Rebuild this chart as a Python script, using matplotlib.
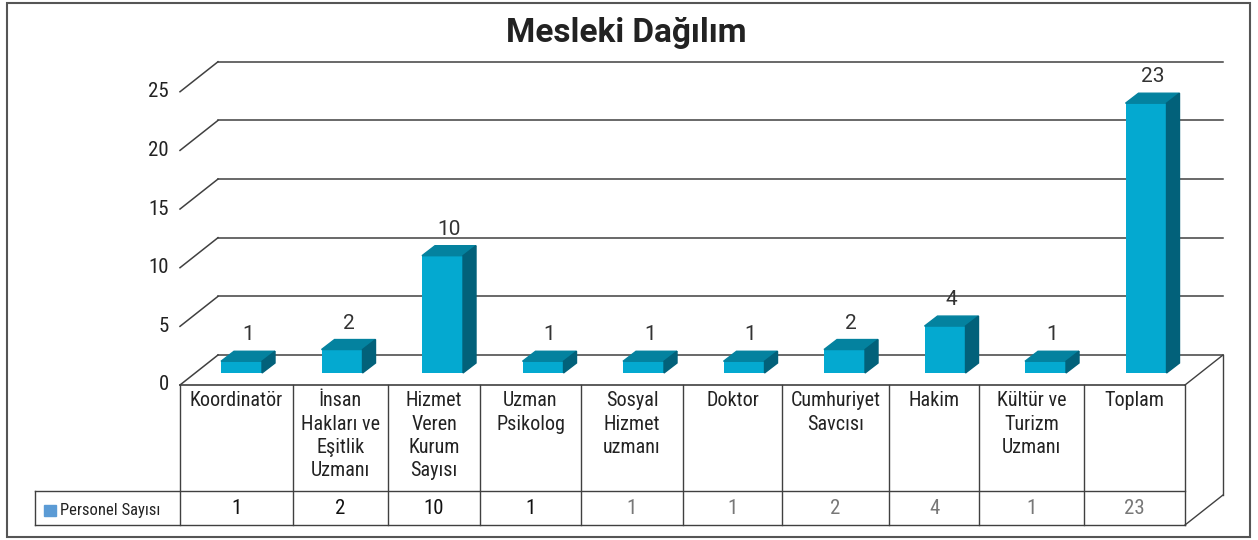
import matplotlib
matplotlib.use('Agg')
import matplotlib.pyplot as plt
from matplotlib.patches import Polygon, Rectangle

categories = ['Koordinatör', 'İnsan\nHakları ve\nEşitlik\nUzmanı', 'Hizmet\nVeren\nKurum\nSayısı',
              'Uzman\nPsikolog', 'Sosyal\nHizmet\nuzmanı', 'Doktor', 'Cumhuriyet\nSavcısı',
              'Hakim', 'Kültür ve\nTurizm\nUzmanı', 'Toplam']
values = [1, 2, 10, 1, 1, 1, 2, 4, 1, 23]
yticks = [0, 5, 10, 15, 20, 25]
series_name = 'Personel Sayısı'
title = 'Mesleki Dağılım'

narrow = ['Roboto Condensed', 'Liberation Sans Narrow', 'Roboto', 'DejaVu Sans']

# pixel layout -> data units (one category = 100.5 px, one value unit = 11.73 px)
PX, PY = 100.5, 11.73
def X(px):
    return (px - 180) / PX
def Y(py):
    return (385 - py) / PY

# table column edges as drawn in the reference (slightly uneven)
cell_edges = [X(p) for p in [180, 293, 388, 480, 581, 683, 782, 889, 979, 1084, 1185]]

DX, DY = 38 / PX, 30 / PY          # full floor depth
BX, BY = 0.112, 12 / PY            # where the bar front face sits
BDX, BDY = 13 / PX, 10 / PY        # bar depth
W = 41 / PX

fig = plt.figure(figsize=(12.58, 5.40), dpi=100)
ax = fig.add_axes([0, 0, 1, 1])
ax.set_xlim(X(0), X(1258))
ax.set_ylim(Y(540), Y(0))
ax.axis('off')

n = len(categories)
grid_c = '#404040'
right = cell_edges[-1]

# back wall gridlines + depth ticks
for v in yticks:
    ax.plot([0, DX], [v, v + DY], color=grid_c, lw=1.1)
    ax.plot([DX, right + DX], [v + DY, v + DY], color=grid_c, lw=1.1)
    ax.text(X(169), v, str(v), ha='right', va='center', fontsize=15,
            family=narrow, color='#222')

# floor / table right side
ax.plot([right, right + DX], [0, DY], color=grid_c, lw=1)
ax.plot([right + DX, right + DX], [DY, Y(525) + DY], color=grid_c, lw=1)
ax.plot([right, right + DX], [Y(525), Y(525) + DY], color=grid_c, lw=1)

# bars
front_c, top_c, side_c = '#04a9d0', '#04829f', '#02617a'
centers = [i + 0.5 + BX for i in range(n)]
ax.bar(centers, values, width=W, bottom=BY, color=front_c, zorder=3)
for c, v in zip(centers, values):
    xl, xr = c - W / 2, c + W / 2
    top = v + BY
    ax.add_patch(Polygon([(xl, top), (xr, top), (xr + BDX, top + BDY), (xl + BDX, top + BDY)],
                         closed=True, color=top_c, zorder=3))
    ax.add_patch(Polygon([(xr, BY), (xr, top), (xr + BDX, top + BDY), (xr + BDX, BY + BDY)],
                         closed=True, color=side_c, zorder=3))
    ax.text(c + BDX / 2, top + BDY + 0.6, str(v), ha='center', va='bottom',
            fontsize=15, family=['Roboto', 'DejaVu Sans'], color='#333', zorder=4)

# data table
tc = '#404040'
row1, row2 = Y(491), Y(525)
ax.plot([0, right], [0, 0], color=tc, lw=1.2)
for e in cell_edges:
    ax.plot([e, e], [0, row2], color=tc, lw=1)
ax.plot([X(35), right], [row1, row1], color=tc, lw=1)
ax.plot([X(35), right], [row2, row2], color=tc, lw=1)
ax.plot([X(35), X(35)], [row1, row2], color=tc, lw=1)

for i, (cat, v) in enumerate(zip(categories, values)):
    mid = (cell_edges[i] + cell_edges[i + 1]) / 2
    ax.text(mid, Y(391), cat, ha='center', va='top', fontsize=14.5,
            family=narrow, color='#222', linespacing=1.3)
    light = i >= 4
    ax.text(mid, Y(508), str(v), ha='center', va='center', fontsize=15,
            family=narrow, color='#777' if light else '#111')

ax.add_patch(Rectangle((X(44), Y(516)), X(56) - X(44), Y(505) - Y(516),
                       color='#5b9bd5'))
ax.text(X(60), Y(510), series_name, ha='left', va='center', fontsize=12,
        family=narrow, color='#222')

fig.text(626 / 1258, 1 - 33 / 540, title, ha='center', va='center', fontsize=24,
         fontweight='bold', family=['Roboto', 'DejaVu Sans'], color='#222')

# outer border
fig.add_artist(Rectangle((7 / 1258, 3 / 540), 1243 / 1258, 534 / 540, fill=False,
                         edgecolor='#555', lw=1.5, transform=fig.transFigure))

fig.savefig('out.png', dpi=100)
